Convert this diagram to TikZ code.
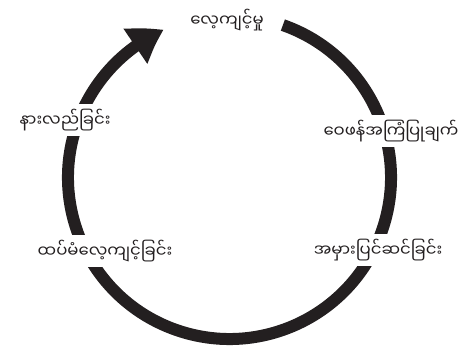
\documentclass[tikz,border=0pt]{standalone}
\usepackage{fontspec}
\newfontfamily\mmfont[Script=Myanmar]{Noto Sans Myanmar UI}
\usetikzlibrary{arrows.meta,bending}
\definecolor{ink}{HTML}{231F20}
\begin{document}
\begin{tikzpicture}[x=1pt,y=1pt,
  lbl/.style={font=\mmfont\fontsize{16.5}{19}\selectfont, text=ink, fill=white, inner xsep=3pt, inner ysep=5pt}]
\useasboundingbox (0,0) rectangle (466,360);
\coordinate (c) at (229.5,182.5);
\draw[ink, line width=12pt, -{Triangle[length=33pt,width=40pt,bend]}]
  ([shift={(70.7:161.5)}]c) arc[start angle=70.7, end angle=-246, radius=161.5];
\node[lbl] (top) at (227,340) {လေ့ကျင့်မှု};
\node[lbl] (right) at (391,229) {ဝေဖန်အကြံပြုချက်};
\node[lbl] (br) at (378,110) {အမှားပြင်ဆင်ခြင်း};
\node[lbl] (bl) at (105,109) {ထပ်မံလေ့ကျင့်ခြင်း};
\node[lbl] (left) at (65,240) {နားလည်ခြင်း};
\end{tikzpicture}
\end{document}
